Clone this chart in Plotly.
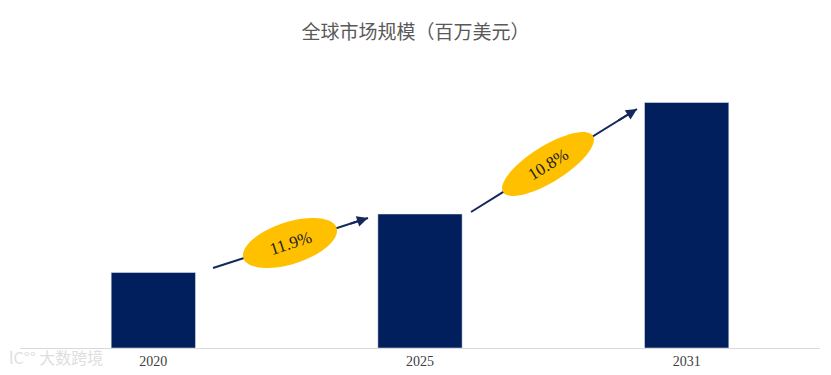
import numpy as np
import plotly.graph_objects as go

years = ["2020", "2025", "2031"]
values = [75.5, 134.0, 245.5]
cagr_labels = ["11.9%", "10.8%"]

W, H = 831, 375
# plot area in page pixels: x 20..820, y 60..348
PL, PR, PT, PB = 20, 820, 60, 348
ML, MR, MT, MB = PL, W - PR, PT, H - PB
PW, PH = PR - PL, PB - PT
YMAX = float(PH)
xs = list(range(len(years)))

fig = go.Figure(go.Bar(x=xs, y=values, marker_color="#001F5C", width=0.316,
                       hoverinfo="skip"))

def px2x(px):
    return -0.5 + (px - PL) / PW * 3.0

def px2y(py):
    return (PB - py) / PH * YMAX

def ellipse_path(cx, cy, a, b, ang_deg):
    t = np.linspace(0, 2 * np.pi, 73)
    ang = np.radians(ang_deg)
    ex = a * np.cos(t)
    ey = b * np.sin(t)
    pxs = cx + ex * np.cos(ang) + ey * np.sin(ang)
    pys = cy - ex * np.sin(ang) + ey * np.cos(ang)
    pts = [f"{px2x(u):.5f},{px2y(v):.5f}" for u, v in zip(pxs, pys)]
    return "M" + " L".join(pts) + " Z"

arrows = [((213, 268), (368, 218), (290, 243), 49, 21, 18),
          ((471, 212), (637, 109), (548, 164), 53, 18, 32)]
shapes = []
annots = []
for (s, e, c, a, b, ang), lab in zip(arrows, cagr_labels):
    shapes.append(dict(type="line", xref="x", yref="y",
                       x0=px2x(s[0]), y0=px2y(s[1]), x1=px2x(e[0]), y1=px2y(e[1]),
                       line=dict(color="#14285A", width=2), layer="above"))
    shapes.append(dict(type="path", xref="x", yref="y", path=ellipse_path(c[0], c[1], a, b, ang),
                       fillcolor="#FFC000", line=dict(width=0), layer="above"))
    tx = e[0] - (e[0] - s[0]) * 0.12
    ty = e[1] - (e[1] - s[1]) * 0.12
    annots.append(dict(x=px2x(e[0]), y=px2y(e[1]), ax=px2x(tx), ay=px2y(ty),
                       xref="x", yref="y", axref="x", ayref="y", text="",
                       showarrow=True, arrowhead=2, arrowsize=1.1, arrowwidth=2,
                       arrowcolor="#14285A"))
    annots.append(dict(x=px2x(c[0]), y=px2y(c[1]), xref="x", yref="y", text=lab,
                       showarrow=False, textangle=-ang,
                       font=dict(family="Liberation Serif, Times New Roman, serif", size=17, color="#222222")))

# faint watermark (paper coords are relative to the plot area)
annots.append(dict(x=(7 - PL) / PW, y=(PB - 357) / PH, xref="paper", yref="paper",
                   xanchor="left", yanchor="middle",
                   text="lC°° 大数跨境", showarrow=False,
                   font=dict(family="Noto Sans CJK SC", size=16, color="#DEDEDE")))

fig.update_layout(
    width=W, height=H,
    margin=dict(l=ML, r=MR, t=MT, b=MB, autoexpand=False),
    paper_bgcolor="white", plot_bgcolor="white",
    title=dict(text="全球市场规模（百万美元）", x=0.5, xanchor="center",
               y=1 - 32 / H, yanchor="middle",
               font=dict(family="Noto Sans CJK SC", size=19, color="#595959")),
    xaxis=dict(range=[-0.5, 2.5], tickmode="array", tickvals=xs, ticktext=years,
               showgrid=False, zeroline=False, showline=True, linecolor="#D9D9D9", linewidth=1,
               ticks="", tickfont=dict(family="Liberation Serif, Times New Roman, serif", size=14, color="#404040")),
    yaxis=dict(range=[0, YMAX], visible=False, showgrid=False, zeroline=False),
    shapes=shapes, annotations=annots, showlegend=False,
)
fig.write_html("out.html", config={"displayModeBar": False},
               post_script="document.body.style.margin='0';")
